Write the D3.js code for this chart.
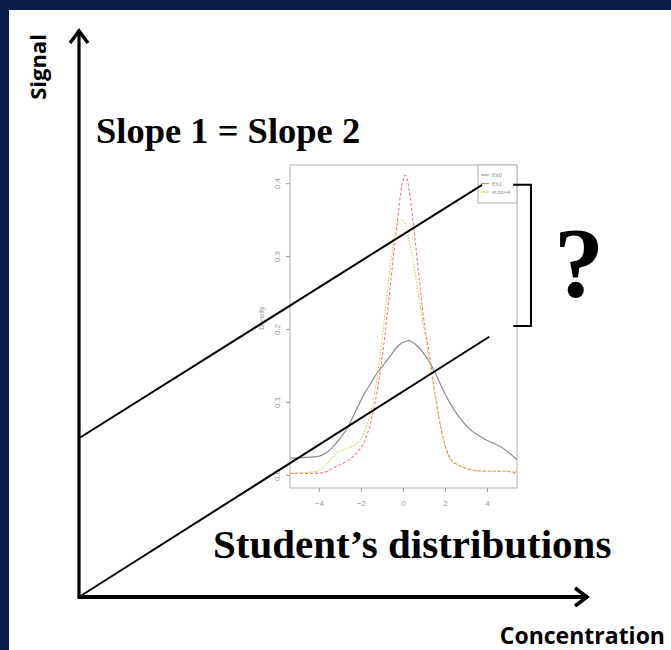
<!DOCTYPE html>
<html lang="en">
<head>
<meta charset="UTF-8">
<title>Slope 1 = Slope 2</title>
<script src="https://cdnjs.cloudflare.com/ajax/libs/d3/7.8.5/d3.min.js"></script>
<style>
  body { margin: 0; background: #0b1d4b; }
  svg { display: block; }
</style>
</head>
<body>
<div id="chart"></div>
<script>
// Main diagram (arbitrary units: concentration 0-100, signal 0-100)
var line1Conc = [0, 79.2];
var line1Signal = [28.0, 72.7];
var line2Conc = [0, 80.6];
var line2Signal = [0, 45.9];
var bracketConc = [85.3, 88.8];
var bracketSignal = [72.7, 47.8];

// Inset: density curves
var densX = [-5.37, -4.1, -3.6, -3.13, -2.65, -2.17, -1.86, -1.54, -1.24, -0.92, -0.6, -0.29, -0.05,
             0.11, 0.27, 0.51, 0.75, 0.98, 1.3, 1.62, 1.94, 2.25, 2.73, 3.2, 3.84, 4.79, 5.43];
var densEx0 = [0.023, 0.025, 0.031, 0.045, 0.064, 0.092, 0.110, 0.125, 0.139, 0.151, 0.163, 0.175, 0.181,
               0.183, 0.184, 0.181, 0.175, 0.167, 0.153, 0.135, 0.115, 0.098, 0.077, 0.062, 0.050, 0.036, 0.021];
var densEx1 = [0.002, 0.002, 0.005, 0.012, 0.019, 0.031, 0.044, 0.071, 0.112, 0.176, 0.259, 0.341, 0.396,
               0.411, 0.396, 0.341, 0.277, 0.217, 0.158, 0.094, 0.048, 0.023, 0.012, 0.007, 0.005, 0.005, 0.002];
var densSt4 = [0.002, 0.005, 0.016, 0.030, 0.036, 0.044, 0.057, 0.085, 0.131, 0.204, 0.286, 0.341, 0.350,
               0.345, 0.325, 0.290, 0.245, 0.204, 0.149, 0.094, 0.048, 0.021, 0.012, 0.008, 0.005, 0.005, 0.005];
var insetXTicks = [-4, -2, 0, 2, 4];
var insetYTicks = [0, 0.1, 0.2, 0.3, 0.4];
var legendLabels = ["Ex0", "Ex1", "st,nu=4"];

var w = 671, h = 650;
var svg = d3.select("#chart").append("svg").attr("width", w).attr("height", h);

// white panel inside the navy frame
svg.append("rect").attr("x", 9).attr("y", 10).attr("width", w - 9).attr("height", h - 10).attr("fill", "#fff");

var x = d3.scaleLinear().domain([0, 100]).range([79, 588]);
var y = d3.scaleLinear().domain([0, 100]).range([597, 30]);

// ---- inset density plot ----
var xi = d3.scaleLinear().domain([-5.37, 5.43]).range([290, 517]);
var yi = d3.scaleLinear().domain([-0.018, 0.425]).range([488, 165]);
var inset = svg.append("g").attr("class", "inset");
var grey = "#9a9a9a";

inset.append("rect")
    .attr("x", xi(-5.37)).attr("y", yi(0.425))
    .attr("width", xi(5.43) - xi(-5.37)).attr("height", yi(-0.018) - yi(0.425))
    .attr("fill", "#fff").attr("stroke", "#b0b0b0").attr("stroke-width", 1);

var ax = inset.append("g").attr("transform", "translate(0," + yi(-0.018) + ")")
    .call(d3.axisBottom(xi).tickValues(insetXTicks).tickSize(4).tickPadding(8));
var ay = inset.append("g").attr("transform", "translate(" + xi(-5.37) + ",0)")
    .call(d3.axisLeft(yi).tickValues(insetYTicks).tickSize(4).tickFormat(d3.format(".1f")));
[ax, ay].forEach(function(a) {
    a.select(".domain").remove();
    a.selectAll("line").attr("stroke", grey);
    a.selectAll("text").attr("fill", grey).attr("font-size", "8px").attr("font-family", "Liberation Sans, sans-serif");
});
ay.selectAll(".tick text")
    .attr("transform", "rotate(-90)")
    .attr("x", 0).attr("y", -10).attr("dy", 0)
    .attr("text-anchor", "middle");
inset.append("text")
    .attr("transform", "translate(264," + yi(0.215) + ") rotate(-90)")
    .attr("text-anchor", "middle").attr("font-size", "7px").attr("fill", grey)
    .attr("font-family", "Liberation Sans, sans-serif").text("Density");

var curves = [
    { vals: densEx0, color: "#8c8c8c", dash: null, width: 1.2 },
    { vals: densEx1, color: "#f07a7a", dash: "3,2", width: 1.1 },
    { vals: densSt4, color: "#cfd24a", dash: "1.5,1.5", width: 1.1 }
];
var dens = d3.line()
    .x(function(d, i) { return xi(densX[i]); })
    .y(function(d) { return yi(d); })
    .curve(d3.curveMonotoneX);
curves.forEach(function(c) {
    inset.append("path").datum(c.vals)
        .attr("d", dens).attr("fill", "none")
        .attr("stroke", c.color).attr("stroke-width", c.width)
        .attr("stroke-dasharray", c.dash);
});

// legend
var lg = inset.append("g");
lg.append("rect").attr("x", 478).attr("y", 165).attr("width", 39).attr("height", 38)
    .attr("fill", "#fff").attr("stroke", "#b0b0b0");
legendLabels.forEach(function(l, i) {
    var ly = 175 + i * 8.5;
    lg.append("line").attr("x1", 481).attr("x2", 489).attr("y1", ly).attr("y2", ly)
        .attr("stroke", curves[i].color).attr("stroke-width", 1);
    lg.append("text").attr("x", 492).attr("y", ly + 2).attr("font-size", "6px")
        .attr("fill", "#888").attr("font-family", "Liberation Serif, serif").text(l);
});

// ---- main axes with arrows ----
svg.append("line").attr("x1", x(0)).attr("x2", x(0)).attr("y1", y(0)).attr("y2", y(100))
    .attr("stroke", "#000").attr("stroke-width", 3.2);
svg.append("line").attr("x1", x(0) - 1.5).attr("x2", x(100)).attr("y1", y(0)).attr("y2", y(0))
    .attr("stroke", "#000").attr("stroke-width", 3.8);
svg.append("path")
    .attr("d", "M" + (x(0) - 9) + "," + (y(100) + 13) + "L" + x(0) + "," + (y(100) + 1) + "L" + (x(0) + 9) + "," + (y(100) + 13))
    .attr("fill", "none").attr("stroke", "#000").attr("stroke-width", 3.5).attr("stroke-linejoin", "miter");
svg.append("path")
    .attr("d", "M" + (x(100) - 13) + "," + (y(0) - 9) + "L" + (x(100) - 1) + "," + y(0) + "L" + (x(100) - 13) + "," + (y(0) + 9))
    .attr("fill", "none").attr("stroke", "#000").attr("stroke-width", 3.5).attr("stroke-linejoin", "miter");

// calibration lines
var cal = d3.line().x(function(d) { return x(d[0]); }).y(function(d) { return y(d[1]); });
svg.append("path").datum(d3.zip(line1Conc, line1Signal)).attr("d", cal)
    .attr("stroke", "#000").attr("stroke-width", 2).attr("fill", "none");
svg.append("path").datum(d3.zip(line2Conc, line2Signal)).attr("d", cal)
    .attr("stroke", "#000").attr("stroke-width", 2).attr("fill", "none");

// bracket
svg.append("path")
    .attr("d", "M" + x(bracketConc[0]) + "," + y(bracketSignal[0]) +
               "H" + x(bracketConc[1]) + "V" + y(bracketSignal[1]) + "H" + x(bracketConc[0]))
    .attr("fill", "none").attr("stroke", "#000").attr("stroke-width", 2);

// ---- text ----
svg.append("text").attr("transform", "translate(46,67) rotate(-90)")
    .attr("text-anchor", "middle").attr("font-family", "Open Sans, sans-serif")
    .attr("font-weight", "bold").attr("font-size", "22px").text("Signal");
svg.append("text").attr("x", 665).attr("y", 644).attr("text-anchor", "end")
    .attr("font-family", "Open Sans, sans-serif").attr("font-weight", "bold")
    .attr("font-size", "23px").text("Concentration");

svg.append("text").attr("x", 96).attr("y", 143)
    .attr("font-family", "Liberation Serif, serif").attr("font-weight", "bold")
    .attr("font-size", "36.5px").text("Slope 1 = Slope 2");
svg.append("text").attr("x", 213).attr("y", 558)
    .attr("font-family", "Liberation Serif, serif").attr("font-weight", "bold")
    .attr("font-size", "41px").text("Student\u2019s distributions");
svg.append("text").attr("x", 579).attr("y", 296).attr("text-anchor", "middle")
    .attr("font-family", "Liberation Serif, serif").attr("font-weight", "bold")
    .attr("font-size", "100px").text("?");
</script>
</body>
</html>
